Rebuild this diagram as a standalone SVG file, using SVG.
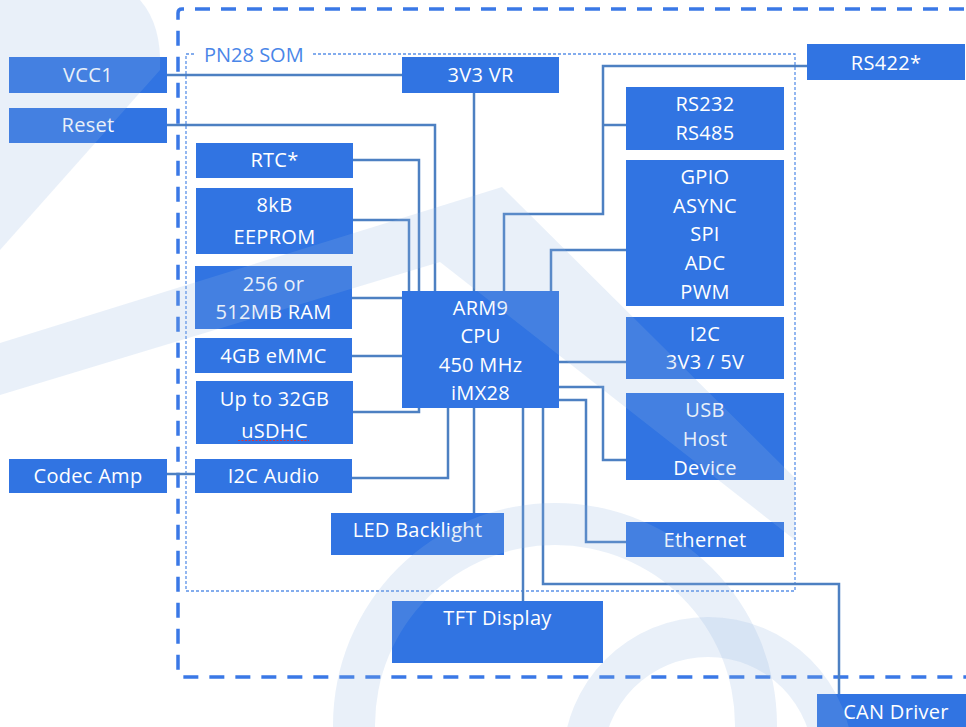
<svg xmlns="http://www.w3.org/2000/svg" width="966" height="727" viewBox="0 0 966 727">
<style>
.box{fill:#3174e2}
.t{font-family:"Open Sans","Noto Sans","Liberation Sans",sans-serif;font-size:20px;fill:#ffffff;text-anchor:middle;letter-spacing:0.3px}
.c{fill:none;stroke:#4d80c2;stroke-width:2.5}
.outer{fill:none;stroke:#3a78e6;stroke-width:3.5;stroke-dasharray:15 11}
.inner{fill:none;stroke:#5b91e8;stroke-width:1.3;stroke-dasharray:3 2}
.lbl{font-family:"Open Sans","Noto Sans","Liberation Sans",sans-serif;font-size:20px;fill:#4a86e8}
.wm{fill:#8fb6e2;opacity:0.2}
</style>
<rect width="966" height="727" fill="#ffffff"/>
<g id="frames">
<path class="outer" d="M990 9 H182 Q178 9 178 13 V673 Q178 677 182 677 H990"/>
<path class="inner" d="M194 54 H186 V591 H795 V54 H313"/>
<text class="lbl" x="204" y="62">PN28 SOM</text>
</g>
<g id="connectors">
<path class="c" d="M167 75 H402"/>
<path class="c" d="M474 93 V291"/>
<path class="c" d="M167 125 H435 V291"/>
<path class="c" d="M353 160 H419 V291"/>
<path class="c" d="M353 220 H409 V291"/>
<path class="c" d="M352 298 H402"/>
<path class="c" d="M352 356 H402"/>
<path class="c" d="M353 412 H419 V408"/>
<path class="c" d="M352 478 H448 V408"/>
<path class="c" d="M167 474 H195"/>
<path class="c" d="M474 408 V513"/>
<path class="c" d="M523 408 V601"/>
<path class="c" d="M543 408 V584 H839 V694"/>
<path class="c" d="M559 400 H586 V542 H626"/>
<path class="c" d="M559 387 H603 V460 H626"/>
<path class="c" d="M559 362 H626"/>
<path class="c" d="M551 291 V250 H626"/>
<path class="c" d="M504 291 V214 H603 V66 H807"/>
<path class="c" d="M603 125 H626"/>
</g>
<g id="vcc1"><rect class="box" x="9" y="57" width="158" height="36"/><text class="t" x="88" y="82">VCC1</text></g>
<g id="reset"><rect class="box" x="9" y="108" width="158" height="35"/><text class="t" x="88" y="132">Reset</text></g>
<g id="rtc"><rect class="box" x="196" y="143" width="157" height="35"/><text class="t" x="274.5" y="167">RTC*</text></g>
<g id="eeprom"><rect class="box" x="196" y="188" width="157" height="66"/><text class="t" x="274.5" y="212">8kB</text><text class="t" x="274.5" y="244">EEPROM</text></g>
<g id="ram"><rect class="box" x="195" y="266" width="157" height="63"/><text class="t" x="273.5" y="290.5">256 or</text><text class="t" x="273.5" y="319">512MB RAM</text></g>
<g id="emmc"><rect class="box" x="195" y="338" width="157" height="35"/><text class="t" x="273.5" y="362.5">4GB eMMC</text></g>
<g id="usdhc"><rect class="box" x="196" y="381" width="157" height="63"/><text class="t" x="274.5" y="406">Up to 32GB</text><text class="t" x="274.5" y="437.5">uSDHC</text><line x1="238" y1="440.5" x2="309" y2="440.5" stroke="#d9363e" stroke-width="1" stroke-dasharray="2 1.5"/></g>
<g id="codec"><rect class="box" x="9" y="459" width="158" height="34"/><text class="t" x="88" y="482.5">Codec Amp</text></g>
<g id="i2caudio"><rect class="box" x="195" y="459" width="157" height="34"/><text class="t" x="273.5" y="482.5">I2C Audio</text></g>
<g id="vr"><rect class="box" x="402" y="57" width="157" height="36"/><text class="t" x="480.5" y="81.5">3V3 VR</text></g>
<g id="cpu"><rect class="box" x="402" y="291" width="157" height="117"/><text class="t" x="480.5" y="315">ARM9</text><text class="t" x="480.5" y="343">CPU</text><text class="t" x="480.5" y="371.5">450 MHz</text><text class="t" x="480.5" y="400">iMX28</text></g>
<g id="rs422"><rect class="box" x="807" y="44" width="158" height="36"/><text class="t" x="886" y="69.5">RS422*</text></g>
<g id="rs232"><rect class="box" x="626" y="87" width="158" height="63"/><text class="t" x="705" y="111">RS232</text><text class="t" x="705" y="139.5">RS485</text></g>
<g id="gpio"><rect class="box" x="626" y="160" width="158" height="146"/><text class="t" x="705" y="184">GPIO</text><text class="t" x="705" y="212.5">ASYNC</text><text class="t" x="705" y="241">SPI</text><text class="t" x="705" y="270">ADC</text><text class="t" x="705" y="298.5">PWM</text></g>
<g id="i2c"><rect class="box" x="626" y="317" width="158" height="62"/><text class="t" x="705" y="341">I2C</text><text class="t" x="705" y="369">3V3 / 5V</text></g>
<g id="usb"><rect class="box" x="626" y="393" width="158" height="87"/><text class="t" x="705" y="417">USB</text><text class="t" x="705" y="446">Host</text><text class="t" x="705" y="474.5">Device</text></g>
<g id="ethernet"><rect class="box" x="626" y="522" width="158" height="35"/><text class="t" x="705" y="546.5">Ethernet</text></g>
<g id="led"><rect class="box" x="331" y="513" width="173" height="42"/><text class="t" x="417.5" y="536.5">LED Backlight</text></g>
<g id="tft"><rect class="box" x="392" y="601" width="211" height="62"/><text class="t" x="497.5" y="624.5">TFT Display</text></g>
<g id="can"><rect class="box" x="817" y="694" width="158" height="40"/><text class="t" x="896" y="719">CAN Driver</text></g>
<g id="watermark">
<path class="wm" d="M0 0 H140 Q162 25 160 70 L0 250 Z"/>
<path class="wm" d="M502 187 L0 343 L0 395 L440 262 L795 540 L795 478 Z"/>
<path class="wm" fill-rule="evenodd" d="M333 725 A222 222 0 0 1 777 725 A222 222 0 0 1 333 725 Z M375 725 A180 180 0 0 1 735 725 A180 180 0 0 1 375 725 Z"/>
<path class="wm" fill-rule="evenodd" d="M563 762 A145 145 0 0 1 853 762 A145 145 0 0 1 563 762 Z M603 762 A105 105 0 0 1 813 762 A105 105 0 0 1 603 762 Z"/>
</g>
</svg>
